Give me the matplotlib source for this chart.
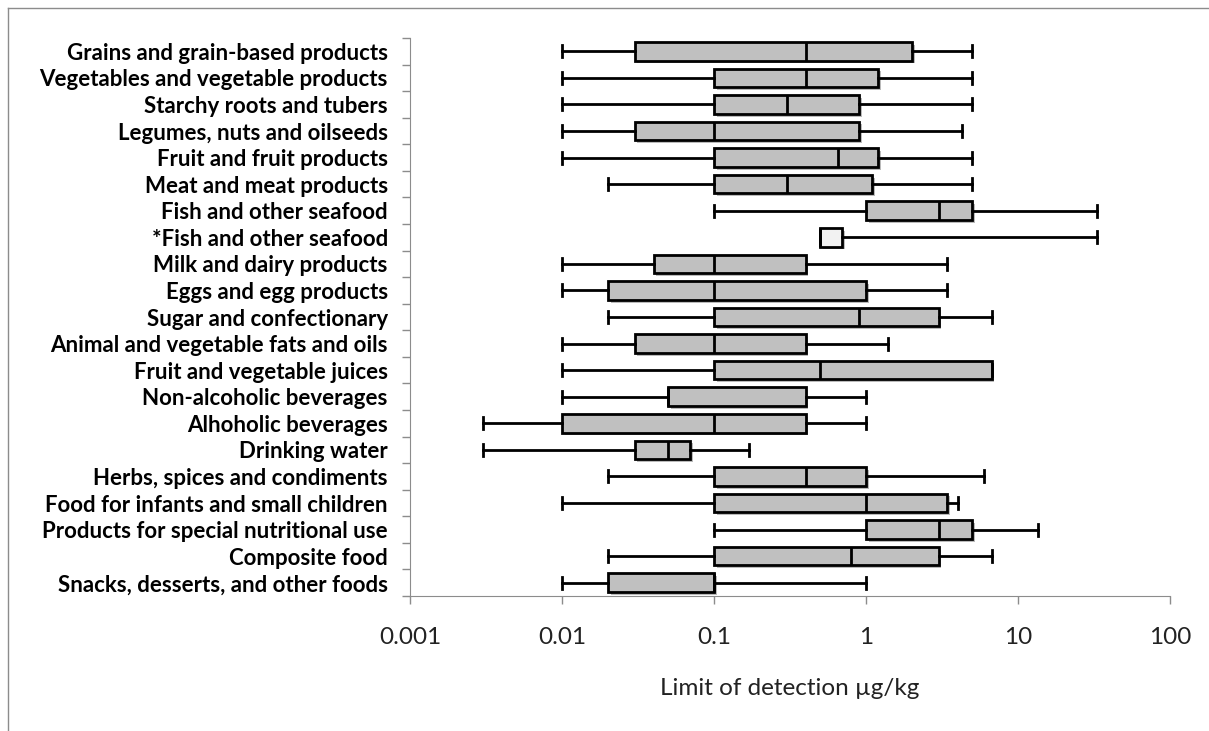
import matplotlib
matplotlib.use("Agg")
import matplotlib.pyplot as plt
import matplotlib.patheffects as pe
from matplotlib.ticker import FixedLocator, NullFormatter, FixedFormatter

categories = [
    "Grains and grain-based products",
    "Vegetables and vegetable products",
    "Starchy roots and tubers",
    "Legumes, nuts and oilseeds",
    "Fruit and fruit products",
    "Meat and meat products",
    "Fish and other seafood",
    "*Fish and other seafood",
    "Milk and dairy products",
    "Eggs and egg products",
    "Sugar and confectionary",
    "Animal and vegetable fats and oils",
    "Fruit and vegetable juices",
    "Non-alcoholic beverages",
    "Alhoholic beverages",
    "Drinking water",
    "Herbs, spices and condiments",
    "Food for infants and small children",
    "Products for special nutritional use",
    "Composite food",
    "Snacks, desserts, and other foods",
]
whis_lo = [0.01, 0.01, 0.01, 0.01, 0.01, 0.02, 0.1, 0.5, 0.01, 0.01, 0.02,
           0.01, 0.01, 0.01, 0.003, 0.003, 0.02, 0.01, 0.1, 0.02, 0.01]
q1 = [0.03, 0.1, 0.1, 0.03, 0.1, 0.1, 1.0, 0.5, 0.04, 0.02, 0.1,
      0.03, 0.1, 0.05, 0.01, 0.03, 0.1, 0.1, 1.0, 0.1, 0.02]
median = [0.4, 0.4, 0.3, 0.1, 0.65, 0.3, 3.0, 0.5, 0.1, 0.1, 0.9,
          0.1, 0.5, 0.05, 0.1, 0.05, 0.4, 1.0, 3.0, 0.8, 0.1]
q3 = [2.0, 1.2, 0.9, 0.9, 1.2, 1.1, 5.0, 0.7, 0.4, 1.0, 3.0,
      0.4, 6.7, 0.4, 0.4, 0.07, 1.0, 3.4, 5.0, 3.0, 0.1]
whis_hi = [5.0, 5.0, 5.0, 4.3, 5.0, 5.0, 33.0, 33.0, 3.4, 3.4, 6.7,
           1.4, 6.7, 1.0, 1.0, 0.17, 6.0, 4.0, 13.5, 6.7, 1.0]
x_ticks = [0.001, 0.01, 0.1, 1, 10, 100]
x_tick_labels = ["0.001", "0.01", "0.1", "1", "10", "100"]

n = len(categories)
stats = []
for i in range(n):
    stats.append({"whislo": whis_lo[i], "q1": q1[i], "med": median[i],
                  "q3": q3[i], "whishi": whis_hi[i], "fliers": []})
positions = [n - i for i in range(n)]

fig = plt.figure(figsize=(12.09, 7.31), dpi=100)
ax = fig.add_axes([410 / 1209, 1 - 596 / 731, 760 / 1209, 558 / 731])

shadow = [pe.SimplePatchShadow(offset=(2, -2), alpha=0.35), pe.Normal()]
bp = ax.bxp(stats, positions=positions, orientation="horizontal",
            widths=0.7, capwidths=0.45, patch_artist=True, showfliers=False,
            boxprops=dict(facecolor="#c0c0c0", edgecolor="black", linewidth=2),
            medianprops=dict(color="black", linewidth=2),
            whiskerprops=dict(color="black", linewidth=2),
            capprops=dict(color="black", linewidth=2))
for i, box in enumerate(bp["boxes"]):
    box.set_path_effects(shadow)
    if categories[i].startswith("*"):
        box.set_facecolor("#f2f2f2")

ax.set_xscale("log")
ax.set_xlim(0.001, 100)
ax.set_ylim(0.5, n + 0.5)

ax.xaxis.set_major_locator(FixedLocator(x_ticks))
ax.xaxis.set_major_formatter(FixedFormatter(x_tick_labels))
ax.xaxis.set_minor_locator(FixedLocator([]))
ax.tick_params(axis="x", which="major", direction="out", length=6, width=1,
               color="#8c8c8c", pad=16, labelsize=17.5, labelcolor="#222222")
for lab in ax.get_xticklabels():
    lab.set_fontfamily("Lato")

ax.set_yticks(positions)
ax.set_yticklabels(categories, fontsize=16, fontweight="bold", fontfamily="Lato")
ax.tick_params(axis="y", which="major", length=0, pad=16)
ax.yaxis.set_minor_locator(FixedLocator([k + 0.5 for k in range(n + 1)]))
ax.yaxis.set_minor_formatter(NullFormatter())
ax.tick_params(axis="y", which="minor", direction="out", length=6, width=1, color="#8c8c8c")

ax.spines["top"].set_visible(False)
ax.spines["right"].set_visible(False)
ax.spines["left"].set_color("#8c8c8c")
ax.spines["bottom"].set_color("#8c8c8c")

ax.set_xlabel("Limit of detection \u00b5g/kg", fontsize=17.5, fontfamily="Lato",
              color="#222222", labelpad=22)

# outer chart border
fig.add_artist(plt.Line2D([8 / 1209, 1.0], [1 - 8 / 731, 1 - 8 / 731],
                          transform=fig.transFigure, color="#8c8c8c", lw=1))
fig.add_artist(plt.Line2D([8 / 1209, 8 / 1209], [0.0, 1 - 8 / 731],
                          transform=fig.transFigure, color="#8c8c8c", lw=1))

fig.savefig("out.png", dpi=100)
